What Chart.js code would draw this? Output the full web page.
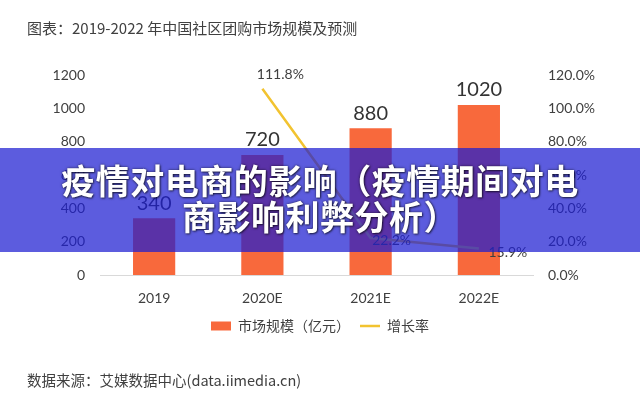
<!DOCTYPE html>
<html>
<head>
<meta charset="utf-8">
<script src="https://cdn.jsdelivr.net/npm/chart.js@4.4.0/dist/chart.umd.min.js"></script>
<style>
  body { margin: 0; background: #fff; }
  #wrap { position: relative; width: 640px; height: 401px; overflow: hidden; background: #fff; }
  #chart-box { position: absolute; left: 0; top: 0; width: 640px; height: 401px; }
  .note { position: absolute; left: 27px; font-family: "Noto Sans CJK SC", sans-serif; color: #404040; white-space: nowrap; }
  #title { top: 17px; font-size: 15px; }
  #source { top: 369px; font-size: 14.5px; }
  #banner {
    position: absolute; left: 0; top: 148px; width: 640px; height: 104px;
    background: rgba(29, 29, 209, 0.72);
    box-sizing: border-box; padding-top: 14px;
    text-align: center; color: #fff;
    font-family: "Noto Sans CJK SC", sans-serif; font-weight: 700;
    font-size: 34px; line-height: 36px; letter-spacing: 0.5px;
    text-shadow: 0 0 3px rgba(0,0,0,0.6), 1px 1px 2px rgba(0,0,0,0.55);
  }
</style>
</head>
<body>
<div id="wrap">
  <div id="chart-box"><canvas id="mainChart"></canvas></div>
  <div id="title" class="note">图表：2019-2022 年中国社区团购市场规模及预测</div>
  <div id="source" class="note">数据来源：艾媒数据中心(data.iimedia.cn)</div>
  <div id="banner">疫情对电商的影响（疫情期间对电<br>商影响利弊分析）</div>
</div>
<script>
// 数据
const years = ['2019', '2020E', '2021E', '2022E'];
const marketSize = [340, 720, 880, 1020];      // 亿元
const growthRate = [null, 111.8, 22.2, 15.9];  // %
const sizeTicks = [0, 200, 400, 600, 800, 1000, 1200];
const rateTicks = [0, 20, 40, 60, 80, 100, 120];

const tickFont = { family: 'Lato, "Noto Sans CJK SC", sans-serif', size: 14 };
const textColor = '#404040';

// rótulos dos valores em cima das barras / ao lado da linha
const valueLabels = {
  id: 'valueLabels',
  afterDatasetsDraw(chart) {
    const ctx = chart.ctx;
    ctx.save();
    ctx.fillStyle = '#333';
    ctx.textAlign = 'center';
    ctx.textBaseline = 'middle';
    ctx.font = '20px Lato, sans-serif';
    chart.getDatasetMeta(0).data.forEach((bar, i) => {
      ctx.fillText(String(marketSize[i]), bar.x, bar.y - 15);
    });
    const shift = [null, [18, -14], [21, 2], [29, 4]];
    ctx.font = '14px Lato, sans-serif';
    ctx.fillStyle = textColor;
    chart.getDatasetMeta(1).data.forEach((pt, i) => {
      if (growthRate[i] == null) return;
      ctx.fillText(growthRate[i].toFixed(1) + '%', pt.x + shift[i][0], pt.y + shift[i][1]);
    });
    ctx.restore();
  }
};

const defaultLabels = Chart.defaults.plugins.legend.labels.generateLabels;

new Chart(document.getElementById('mainChart'), {
  data: {
    labels: years,
    datasets: [
      {
        type: 'bar',
        label: '市场规模（亿元）',
        data: marketSize,
        backgroundColor: '#f8693c',
        borderWidth: 0,
        categoryPercentage: 1,
        barPercentage: 0.39,
        yAxisID: 'y',
        order: 2
      },
      {
        type: 'line',
        label: '增长率',
        data: growthRate,
        borderColor: '#f2c330',
        backgroundColor: '#f2c330',
        borderWidth: 2.5,
        pointRadius: 0,
        tension: 0,
        yAxisID: 'y1',
        order: 1
      }
    ]
  },
  options: {
    responsive: true,
    maintainAspectRatio: false,
    animation: false,
    layout: { padding: { top: 75, bottom: 58, left: 0, right: 0 } },
    plugins: {
      tooltip: { enabled: false },
      legend: {
        position: 'bottom',
        labels: {
          font: { family: '"Noto Sans CJK SC", sans-serif', size: 14 },
          color: textColor,
          usePointStyle: true,
          pointStyleWidth: 20,
          boxHeight: 9,
          padding: 10,
          generateLabels(chart) {
            return defaultLabels(chart)
              .sort((a, b) => a.datasetIndex - b.datasetIndex)
              .map(item => {
                item.pointStyle = item.datasetIndex === 0 ? 'rect' : 'line';
                if (item.datasetIndex === 1) item.lineWidth = 2.5;
                return item;
              });
          }
        }
      }
    },
    scales: {
      x: {
        grid: { display: false, drawTicks: false },
        border: { display: true, color: '#d9d9d9', width: 1 },
        ticks: { font: tickFont, color: textColor, padding: 15 },
        afterFit(s) { s.height = 34; }
      },
      y: {
        position: 'left',
        min: sizeTicks[0],
        max: sizeTicks[sizeTicks.length - 1],
        grid: { display: false, drawTicks: false },
        border: { display: false },
        ticks: { stepSize: 200, font: tickFont, color: textColor, padding: 15, callback: v => String(v) },
        afterFit(s) { s.width = 100; }
      },
      y1: {
        position: 'right',
        min: rateTicks[0],
        max: rateTicks[rateTicks.length - 1],
        grid: { display: false, drawTicks: false },
        border: { display: false },
        ticks: {
          stepSize: 20, font: tickFont, color: textColor, padding: 15,
          callback: v => v.toFixed(1) + '%'
        },
        afterFit(s) { s.width = 107; }
      }
    }
  },
  plugins: [valueLabels]
});
</script>
</body>
</html>
